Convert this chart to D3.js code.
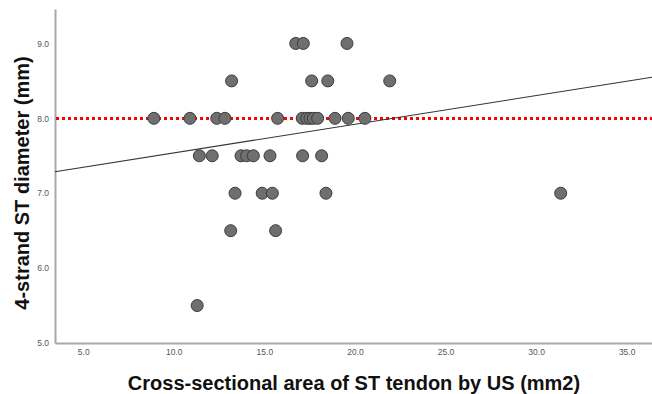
<!DOCTYPE html>
<html>
<head>
<meta charset="utf-8">
<script src="https://cdn.jsdelivr.net/npm/d3@7"></script>
<style>
  body { margin: 0; background: #fff; }
  svg { display: block; font-family: "Liberation Sans", Arial, sans-serif; }
</style>
</head>
<body>
<svg id="chart" width="652" height="394"></svg>
<script>
// cross-sectional area (mm2) and 4-strand diameter (mm)
var area = [
  16.73, 17.15, 19.56,
  13.19, 17.61, 18.50, 21.92,
  8.90, 10.89, 12.37, 12.82, 15.73, 17.09, 17.34, 17.52, 17.70, 17.94, 18.90, 19.63, 20.55,
  11.41, 12.12, 13.71, 14.02, 14.39, 15.31, 17.11, 18.16,
  13.38, 14.88, 15.44, 18.40, 31.36,
  13.14, 15.62,
  11.29
];
var diameter = [
  9.0, 9.0, 9.0,
  8.5, 8.5, 8.5, 8.5,
  8.0, 8.0, 8.0, 8.0, 8.0, 8.0, 8.0, 8.0, 8.0, 8.0, 8.0, 8.0, 8.0,
  7.5, 7.5, 7.5, 7.5, 7.5, 7.5, 7.5, 7.5,
  7.0, 7.0, 7.0, 7.0, 7.0,
  6.5, 6.5,
  5.5
];
var x_ticks = [5, 10, 15, 20, 25, 30, 35];
var y_ticks = [5, 6, 7, 8, 9];
var fit_line = { intercept: 7.155, slope: 0.0383 };
var reference_value = 8.0;

var svg = d3.select('#chart');
var margin = { left: 55, right: 0, top: 9, bottom: 51 };
var width = 652, height = 394;

var x = d3.scaleLinear().domain([3.44, 36.4]).range([margin.left, width - margin.right]);
var y = d3.scaleLinear().domain([5, 9.46]).range([height - margin.bottom, margin.top]);

// axes
var xAxis = svg.append('g')
  .attr('transform', 'translate(0,' + (height - margin.bottom) + ')')
  .call(d3.axisBottom(x).tickValues(x_ticks).tickSize(0).tickPadding(6).tickFormat(d3.format('.1f')));
var yAxis = svg.append('g')
  .attr('transform', 'translate(' + margin.left + ',0)')
  .call(d3.axisLeft(y).tickValues(y_ticks).tickSize(0).tickPadding(6).tickFormat(d3.format('.1f')));

[xAxis, yAxis].forEach(function (g) {
  g.select('.domain').attr('stroke', '#a8a8a8').attr('stroke-width', 2);
  g.selectAll('text').attr('fill', '#555').attr('font-size', 8.5).attr('font-family', '"Liberation Sans", Arial, sans-serif');
});

// reference line at 8.0
var ref_y = Math.round(y(reference_value)) + 0.5;
svg.append('line')
  .attr('x1', x.range()[0] + 1).attr('x2', x.range()[1])
  .attr('y1', ref_y).attr('y2', ref_y)
  .attr('stroke', '#ff0000')
  .attr('stroke-width', 3)
  .attr('stroke-dasharray', '3,3')
  .attr('shape-rendering', 'crispEdges');

// fit line
var d0 = x.domain()[0], d1 = x.domain()[1];
svg.append('line')
  .attr('x1', x(d0)).attr('y1', y(fit_line.intercept + fit_line.slope * d0))
  .attr('x2', x(d1)).attr('y2', y(fit_line.intercept + fit_line.slope * d1))
  .attr('stroke', '#333')
  .attr('stroke-width', 1.1);

// points
svg.append('g').selectAll('circle')
  .data(d3.range(area.length))
  .join('circle')
  .attr('cx', function (i) { return x(area[i]); })
  .attr('cy', function (i) { return y(diameter[i]); })
  .attr('r', 6)
  .attr('fill', '#6f6f6f')
  .attr('stroke', '#3c3c3c')
  .attr('stroke-width', 1);

// titles
svg.append('text')
  .attr('x', 354).attr('y', 390)
  .attr('text-anchor', 'middle')
  .attr('font-size', 20).attr('font-weight', 'bold').attr('fill', '#111')
  .text('Cross-sectional area of ST tendon by US (mm2)');

svg.append('text')
  .attr('transform', 'translate(29,183) rotate(-90)')
  .attr('text-anchor', 'middle')
  .attr('font-size', 20).attr('font-weight', 'bold').attr('fill', '#111')
  .text('4-strand ST diameter (mm)');
</script>
</body>
</html>
